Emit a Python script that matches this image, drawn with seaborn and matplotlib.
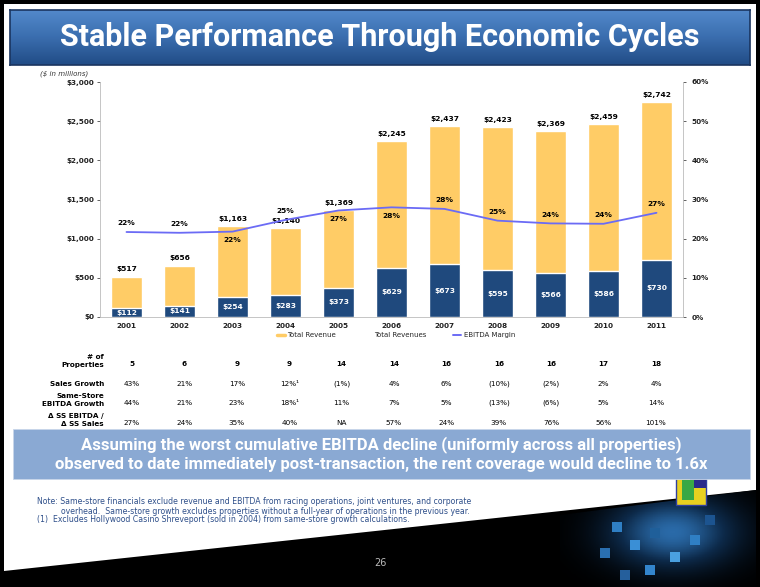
import numpy as np
import pandas as pd
import matplotlib
matplotlib.use("Agg")
import matplotlib.pyplot as plt
from matplotlib.patches import Polygon, Rectangle
from matplotlib.lines import Line2D
from matplotlib.colors import LinearSegmentedColormap
import seaborn as sns

# chart data ($ in millions)
years = ["2001", "2002", "2003", "2004", "2005", "2006", "2007", "2008", "2009", "2010", "2011"]
total_revenue = [517, 656, 1163, 1140, 1369, 2245, 2437, 2423, 2369, 2459, 2742]
ebitda = [112, 141, 254, 283, 373, 629, 673, 595, 566, 586, 730]
ebitda_margin = [21.7, 21.5, 21.8, 24.8, 27.2, 28.0, 27.6, 24.6, 23.9, 23.8, 26.6]
margin_label_side = ["above", "above", "below", "above", "below", "below",
                     "above", "above", "above", "above", "above"]

# table under the chart
num_properties = [5, 6, 9, 9, 14, 14, 16, 16, 16, 17, 18]
sales_growth = ["43%", "21%", "17%", "12%\u00b9", "(1%)", "4%", "6%", "(10%)", "(2%)", "2%", "4%"]
ss_ebitda_growth = ["44%", "21%", "23%", "18%\u00b9", "11%", "7%", "5%", "(13%)", "(6%)", "5%", "14%"]
ss_ratio = ["27%", "24%", "35%", "40%", "NA", "57%", "24%", "39%", "76%", "56%", "101%"]

YELLOW = "#FFCC66"
NAVY = "#1F497D"
LINE = "#6B6BF5"

sns.set_style("white")
plt.rcParams["font.family"] = ["DejaVu Sans"]

W, H = 760, 587
fig = plt.figure(figsize=(7.6, 5.87), dpi=100)
fig.patch.set_facecolor("black")

def fx(x):
    return x / W

def fy(y):
    return 1 - y / H

# white slide with the slanted bottom edge
slide = Polygon([(fx(4), fy(4)), (fx(756), fy(4)), (fx(756), fy(490)), (fx(4), fy(571))],
                closed=True, transform=fig.transFigure, facecolor="white",
                edgecolor="none", zorder=-2)
fig.add_artist(slide)

# title banner with gradient
ban = fig.add_axes([fx(10), fy(65), fx(740), 55 / H])
grad = np.linspace(0, 1, 100).reshape(-1, 1)
cmap = LinearSegmentedColormap.from_list("ban", ["#5289CB", "#3A6DAE", "#214C86"])
ban.imshow(grad, aspect="auto", cmap=cmap, extent=[0, 1, 0, 1])
ban.set_xticks([]); ban.set_yticks([])
for s in ban.spines.values():
    s.set_color("#1a3560"); s.set_linewidth(1.2)
ban.text(0.5, 0.5, "Stable Performance Through Economic Cycles", color="white",
         fontsize=22, fontweight="bold", ha="center", va="center",
         family=["Roboto", "DejaVu Sans"], transform=ban.transAxes)

fig.text(fx(40), fy(74), "($ in millions)", fontsize=5, style="italic",
         color="#333333", va="center")

# main chart
ax = fig.add_axes([fx(100), fy(317), fx(583), 235 / H])
ax.patch.set_alpha(0)
df = pd.DataFrame({"year": years, "revenue": total_revenue, "ebitda": ebitda})
sns.barplot(data=df, x="year", y="revenue", color=YELLOW, saturation=1,
            width=0.57, errorbar=None, ax=ax)
sns.barplot(data=df, x="year", y="ebitda", color=NAVY, saturation=1,
            width=0.57, errorbar=None, ax=ax)
ax.set_ylim(0, 3000)
ax.set_xlim(-0.5, len(years) - 0.5)
ax.set_yticks(range(0, 3001, 500))
ax.set_yticklabels([f"${v:,}" for v in range(0, 3001, 500)])
ax.set_xlabel(""); ax.set_ylabel("")
ax.tick_params(axis="both", labelsize=5.2, colors="#222222", length=2, width=0.5, pad=2)
ax.tick_params(axis="x", length=0, pad=4)
for lab in ax.get_xticklabels() + ax.get_yticklabels():
    lab.set_fontweight("bold")
for side in ["top", "right"]:
    ax.spines[side].set_visible(False)
for side in ["left", "bottom"]:
    ax.spines[side].set_color("#bbbbbb"); ax.spines[side].set_linewidth(0.6)

for i, (rev, eb) in enumerate(zip(total_revenue, ebitda)):
    ax.annotate(f"${rev:,}", (i, rev), xytext=(0, 3), textcoords="offset points",
                ha="center", va="bottom", fontsize=5.4, fontweight="bold", color="black")
    ax.text(i, eb / 2, f"${eb:,}", ha="center", va="center", fontsize=5.4,
            fontweight="bold", color="white")

ax2 = ax.twinx()
ax2.patch.set_alpha(0)
sns.lineplot(x=np.arange(len(years)), y=ebitda_margin, color=LINE, lw=1.3, ax=ax2)
ax2.set_ylim(0, 60)
ax2.set_yticks(range(0, 61, 10))
ax2.set_yticklabels([f"{v}%" for v in range(0, 61, 10)])
ax2.set_ylabel("")
ax2.tick_params(axis="y", labelsize=5.2, colors="#222222", length=2, width=0.5, pad=4)
for lab in ax2.get_yticklabels():
    lab.set_fontweight("bold")
for side in ["top", "left", "bottom"]:
    ax2.spines[side].set_visible(False)
ax2.spines["right"].set_color("#bbbbbb"); ax2.spines["right"].set_linewidth(0.6)
for i, (m, side) in enumerate(zip(ebitda_margin, margin_label_side)):
    dy = 4 if side == "above" else -4
    ax2.annotate(f"{m:.0f}%", (i, m), xytext=(0, dy), textcoords="offset points",
                 ha="center", va="bottom" if side == "above" else "top",
                 fontsize=5.4, fontweight="bold", color="black")

handles = [Line2D([], [], color=YELLOW, lw=2.5),
           Line2D([], [], color="white", lw=0),
           Line2D([], [], color=LINE, lw=1.4)]
fig.legend(handles, ["Total Revenue", "Total Revenues", "EBITDA Margin"],
           loc="center", bbox_to_anchor=(fx(396), fy(335)), ncol=3, frameon=False,
           fontsize=5, handlelength=1.2, handletextpad=0.3, columnspacing=3.9)

# table rows
col_x = [132 + 52.4 * i for i in range(len(years))]
row_labels = [("# of\nProperties", 361), ("Sales Growth", 384),
              ("Same-Store\nEBITDA Growth", 400), ("\u0394 SS EBITDA /\n\u0394 SS Sales", 420)]
for lab, y in row_labels:
    fig.text(fx(104), fy(y), lab, ha="right", va="center", fontsize=5.2,
             fontweight="bold", color="black", linespacing=1.25)
table_rows = [([str(v) for v in num_properties], 364, "bold"),
              (sales_growth, 384, "normal"),
              (ss_ebitda_growth, 403, "normal"),
              (ss_ratio, 423, "normal")]
for vals, y, wt in table_rows:
    for x, v in zip(col_x, vals):
        fig.text(fx(x), fy(y), v, ha="center", va="center", fontsize=5.2,
                 fontweight=wt, color="black")

# highlighted statement
fig.add_artist(Rectangle((fx(13), fy(479)), fx(737), 50 / H, transform=fig.transFigure,
                         facecolor="#8AA9D3", edgecolor="#c8d6ea", lw=0.6, zorder=1))
for text, y in [("Assuming the worst cumulative EBITDA decline (uniformly across all properties)", 445),
                ("observed to date immediately post-transaction, the rent coverage would decline to 1.6x", 465)]:
    fig.text(fx(381), fy(y), text, ha="center", va="center", fontsize=12,
             fontweight="bold", color="white", family=["Roboto", "DejaVu Sans"], zorder=2)

# footnotes
note_color = "#2E4F8A"
fig.text(fx(37), fy(502), "Note: Same-store financials exclude revenue and EBITDA from racing operations, joint ventures, and corporate",
         fontsize=5.6, color=note_color, va="center")
fig.text(fx(61), fy(511), "overhead.  Same-store growth excludes properties without a full-year of operations in the previous year.",
         fontsize=5.6, color=note_color, va="center")
fig.text(fx(37), fy(520), "(1)  Excludes Hollywood Casino Shreveport (sold in 2004) from same-store growth calculations.",
         fontsize=5.6, color=note_color, va="center")

fig.text(fx(380), fy(563), "26", fontsize=7, color="#bbbbbb", ha="center", va="center")

# decorative blocks in the lower right corner
glow = fig.add_axes([fx(560), fy(587), fx(196), 100 / H], zorder=-1)
gx, gy = np.meshgrid(np.linspace(-1, 1, 120), np.linspace(-1, 1, 60))
glow.imshow(np.exp(-((gx - 0.15) ** 2 * 2.5 + (gy + 0.1) ** 2 * 2.0)), cmap=LinearSegmentedColormap.from_list(
    "glow", ["#000000", "#0d2a4a", "#2a6aa8"]), aspect="auto", extent=[0, 1, 0, 1])
glow.axis("off")
glow_clip = Polygon([(fx(560), fy(515)), (fx(756), fy(490)), (fx(756), fy(587)), (fx(560), fy(587))],
                    closed=True, transform=fig.transFigure)
glow.images[0].set_clip_path(glow_clip)

blocks = [(612, 522, "#2f7fc4"), (630, 540, "#3a8fd6"), (650, 528, "#1f5f9a"),
          (600, 548, "#2a6fb0"), (670, 552, "#4aa0e0"), (690, 535, "#2f7fc4"),
          (705, 515, "#1c5490"), (645, 565, "#3385cc"), (620, 570, "#255f9c")]
for bx, by, c in blocks:
    fig.add_artist(Rectangle((fx(bx), fy(by + 10)), fx(10), 10 / H, transform=fig.transFigure,
                             facecolor=c, edgecolor="none", zorder=0))
fig.add_artist(Rectangle((fx(676), fy(505)), fx(30), 30 / H, transform=fig.transFigure,
                         facecolor="#E8D020", edgecolor="#3040a0", lw=1, zorder=0))
fig.add_artist(Rectangle((fx(690), fy(488)), fx(16), 14 / H, transform=fig.transFigure,
                         facecolor="#2a2a8a", edgecolor="none", zorder=0))
fig.add_artist(Rectangle((fx(682), fy(500)), fx(12), 20 / H, transform=fig.transFigure,
                         facecolor="#39a845", edgecolor="none", zorder=0))

fig.savefig("out.png", dpi=100, facecolor=fig.get_facecolor())
